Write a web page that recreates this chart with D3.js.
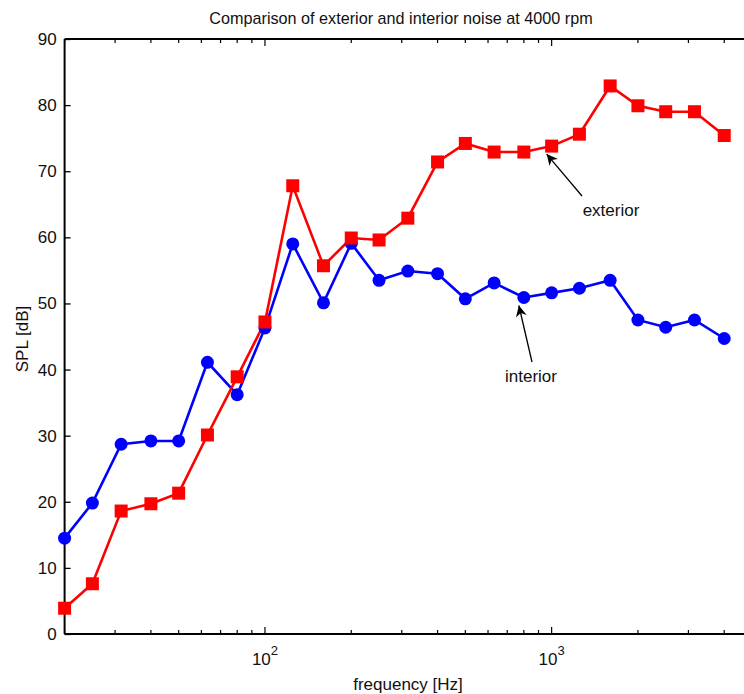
<!DOCTYPE html>
<html>
<head>
<meta charset="utf-8">
<script src="https://cdn.jsdelivr.net/npm/d3@7"></script>
<style>
body{margin:0;background:#fff;}
svg{display:block;font-family:"Liberation Sans",Arial,sans-serif;}
</style>
</head>
<body>
<svg id="chart" width="744" height="694"></svg>
<script>
const frequencies = [20,25,31.5,40,50,63,80,100,125,160,200,250,315,400,500,630,800,1000,1250,1600,2000,2500,3150,4000];
const exterior = [3.9,7.6,18.6,19.7,21.3,30.1,38.9,47.2,67.8,55.7,59.9,59.6,62.9,71.4,74.2,72.9,72.9,73.8,75.6,82.9,79.9,79.0,79.0,75.4];
const interior = [14.5,19.8,28.7,29.2,29.2,41.1,36.2,46.3,59.0,50.1,59.1,53.5,54.9,54.5,50.7,53.1,50.9,51.6,52.3,53.5,47.5,46.4,47.5,44.7];
const yTicks = [0,10,20,30,40,50,60,70,80,90];
const xMajor = [100,1000];
const xMinor = [20,30,40,50,60,70,80,90,200,300,400,500,600,700,800,900,2000,3000,4000,5000];
const title = "Comparison of exterior and interior noise at 4000 rpm";
const xLabel = "frequency [Hz]";
const yLabel = "SPL [dB]";

const svg = d3.select("#chart");
const x = d3.scaleLog().domain([20,5000]).range([64.6,752]);
const y = d3.scaleLinear().domain([0,90]).range([634,39]);

const g = svg.append("g");

// frame
const frame = g.append("g").attr("stroke","#000").attr("stroke-width",2).attr("fill","none");
frame.append("line").attr("x1",x(20)).attr("x2",x(20)).attr("y1",y(0)).attr("y2",y(90));
frame.append("line").attr("x1",x(20)).attr("x2",x(5000)).attr("y1",y(0)).attr("y2",y(0));
frame.append("line").attr("x1",x(20)).attr("x2",x(5000)).attr("y1",y(90)).attr("y2",y(90));
frame.append("line").attr("x1",x(5000)).attr("x2",x(5000)).attr("y1",y(0)).attr("y2",y(90));

// y axis
const yAxis = d3.axisLeft(y).tickValues(yTicks).tickSizeInner(-6).tickSizeOuter(0).tickPadding(8);
const ya = g.append("g").attr("transform",`translate(${x(20)},0)`).call(yAxis);
ya.select(".domain").remove();
ya.selectAll(".tick line").attr("stroke","#000").attr("stroke-width",1.3);
ya.selectAll(".tick text").attr("font-size",17).attr("fill","#111").attr("font-family","Liberation Sans, Arial, sans-serif");

// x ticks bottom & top (inward)
const tk = g.append("g").attr("stroke","#000").attr("stroke-width",1.2);
xMinor.forEach(v=>{
  tk.append("line").attr("x1",x(v)).attr("x2",x(v)).attr("y1",y(0)).attr("y2",y(0)-4);
  tk.append("line").attr("x1",x(v)).attr("x2",x(v)).attr("y1",y(90)).attr("y2",y(90)+4);
});
xMajor.forEach(v=>{
  tk.append("line").attr("x1",x(v)).attr("x2",x(v)).attr("y1",y(0)).attr("y2",y(0)-7);
  tk.append("line").attr("x1",x(v)).attr("x2",x(v)).attr("y1",y(90)).attr("y2",y(90)+7);
});
xMajor.forEach(v=>{
  const t = g.append("text").attr("x",x(v)).attr("y",665).attr("text-anchor","middle")
    .attr("font-size",17).attr("fill","#111");
  t.append("tspan").text("10");
  t.append("tspan").attr("dy",-10).attr("font-size",13).text(Math.round(Math.log10(v)));
});

// lines
const line = d3.line().x((d,i)=>x(frequencies[i])).y(d=>y(d));
g.append("path").datum(interior).attr("d",line).attr("fill","none").attr("stroke","#0000ff").attr("stroke-width",2.6);
g.append("path").datum(exterior).attr("d",line).attr("fill","none").attr("stroke","#ff0000").attr("stroke-width",2.6);

g.append("g").selectAll("circle").data(interior).join("circle")
  .attr("cx",(d,i)=>x(frequencies[i])).attr("cy",d=>y(d)).attr("r",6.5).attr("fill","#0000ff");
g.append("g").selectAll("rect").data(exterior).join("rect")
  .attr("x",(d,i)=>x(frequencies[i])-6.5).attr("y",d=>y(d)-6.5).attr("width",13).attr("height",13).attr("fill","#ff0000");

// annotations
svg.append("defs").append("marker").attr("id","arr").attr("viewBox","0 0 10 10").attr("refX",10).attr("refY",5)
  .attr("markerWidth",15).attr("markerHeight",11).attr("markerUnits","userSpaceOnUse").attr("orient","auto")
  .append("path").attr("d","M0,0 L10,5 L0,10 L3,5 Z").attr("fill","#000");
function annot(fi, series, tx, ty, lx, ly, label){
  const px = x(frequencies[fi]) - 5, py = y(series[fi]) + 8;
  g.append("line").attr("x1",tx).attr("y1",ty).attr("x2",px).attr("y2",py)
    .attr("stroke","#000").attr("stroke-width",1.3).attr("marker-end","url(#arr)");
  g.append("text").attr("x",lx).attr("y",ly).attr("text-anchor","middle").attr("font-size",17).attr("fill","#111").text(label);
}
annot(17, exterior, 582, 196, 611, 216, "exterior");
annot(16, interior, 532, 362, 531, 382, "interior");

// titles
svg.append("text").attr("x",401).attr("y",24).attr("text-anchor","middle").attr("font-size",16.2).attr("fill","#111").text(title);
svg.append("text").attr("x",408).attr("y",690).attr("text-anchor","middle").attr("font-size",17).attr("fill","#111").text(xLabel);
svg.append("text").attr("transform","translate(28,339) rotate(-90)").attr("text-anchor","middle").attr("font-size",17).attr("fill","#111").text(yLabel);
</script>
</body>
</html>
